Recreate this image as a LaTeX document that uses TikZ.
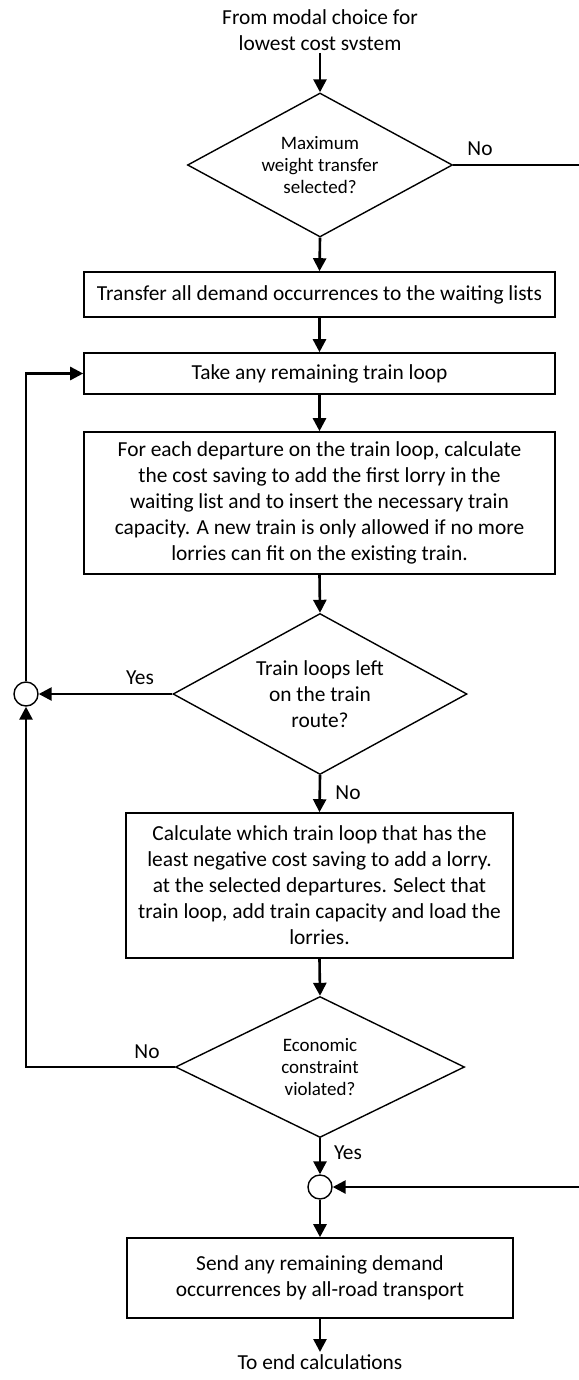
\documentclass[tikz,border=0pt]{standalone}
\usepackage{fontspec}
\setmainfont{Carlito}
\usetikzlibrary{arrows.meta,shapes.geometric}
\newcommand\bodyf{\fontsize{21.4}{26}\selectfont}
\newcommand\smallf{\fontsize{19}{22}\selectfont}
\begin{document}
\begin{tikzpicture}[x=1pt,y=-1pt,
  conn/.style={line width=2.6pt,-{Triangle[length=13pt,width=13pt]}},
  plain/.style={line width=2.6pt},
  box/.style={draw,line width=1.6pt,rectangle,inner sep=0pt,align=center,font=\bodyf},
  dec/.style={draw,line width=1.4pt,diamond,inner sep=0pt,align=center},
  junc/.style={draw,line width=1.4pt,circle,inner sep=0pt,minimum size=24pt},
  lbl/.style={inner sep=0pt,font=\bodyf}]
\useasboundingbox[fill=white] (0,0) rectangle (578,1380);

\node[lbl,align=center,anchor=south,inner sep=2pt] (start) at (320,53) {From modal choice for\\lowest cost svstem};
\node[dec,font=\smallf,aspect=1.84,minimum width=265pt,minimum height=144pt] (d1) at (320,165) {Maximum\\weight transfer\\selected?};
\node[box,minimum width=471pt,minimum height=45pt] (b1) at (319.5,294.5) {Transfer all demand occurrences to the waiting lists};
\node[box,minimum width=471pt,minimum height=41pt] (b2) at (319.5,373.5) {Take any remaining train loop};
\node[box,minimum width=471pt,minimum height=142pt] (b3) at (319.5,503) {For each departure on the train loop, calculate\\the cost saving to add the first lorry in the\\waiting list and to insert the necessary train\\capacity. A new train is only allowed if no more\\lorries can fit on the existing train.};
\node[dec,font=\bodyf,aspect=1.83,minimum width=294pt,minimum height=161pt] (d2) at (320,694) {Train loops left\\on the train\\route?};
\node[junc] (c1) at (26,694) {};
\node[box,minimum width=387pt,minimum height=145pt] (b4) at (319.5,885.5) {Calculate which train loop that has the\\least negative cost saving to add a lorry.\\at the selected departures. Select that\\train loop, add train capacity and load the\\lorries.};
\node[dec,font=\smallf,aspect=2.05,minimum width=289pt,minimum height=141pt] (d3) at (320,1067) {Economic\\constraint\\violated?};
\node[junc] (c2) at (320,1187) {};
\node[box,minimum width=386pt,minimum height=80pt] (b5) at (320,1278) {Send any remaining demand\\occurrences by all-road transport};
\node[lbl,anchor=north,inner sep=2pt] (end) at (320,1352) {To end calculations};

\node[lbl] (l1) at (480,149) {No};
\node[lbl] (l2) at (140,678) {Yes};
\node[lbl] (l3) at (348,793) {No};
\node[lbl] (l4) at (147,1052) {No};
\node[lbl] (l5) at (348,1153) {Yes};

\coordinate (rr) at (580,165);

\draw[conn] (start.south) -- (d1.north);
\draw[conn] (d1.south) -- (b1.north);
\draw[conn] (b1.south) -- (b2.north);
\draw[conn] (b2.south) -- (b3.north);
\draw[conn] (b3.south) -- (d2.north);
\draw[conn] (d2.west) -- (c1.east);
\draw[conn] (c1.north) |- (b2.west);
\draw[conn] (d2.south) -- (b4.north);
\draw[conn] (b4.south) -- (d3.north);
\draw[conn] (d3.west) -| (c1.south);
\draw[conn] (d3.south) -- (c2.north);
\draw[conn] (d1.east) -- (rr) |- (c2.east);
\draw[conn] (c2.south) -- (b5.north);
\draw[conn] (b5.south) -- (end.north);
\end{tikzpicture}
\end{document}
